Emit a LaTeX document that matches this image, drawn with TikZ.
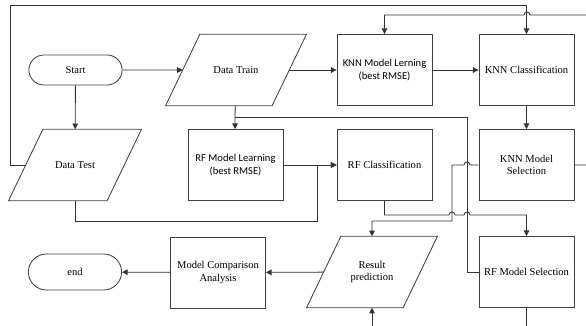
\documentclass[tikz,border=0pt]{standalone}
\usepackage{fontspec}
\setmainfont{Liberation Serif}
\newfontfamily\labelsans{Carlito}
\usetikzlibrary{shapes.misc,arrows.meta}

\tikzset{
  procbox/.style={draw=black!75, line width=0.6pt, minimum width=2.375cm,
    minimum height=1.775cm, inner sep=1pt, align=center,
    font=\fontsize{7.5}{9}\selectfont},
  iobox/.style={minimum height=1.775cm, inner sep=1pt, align=center,
    font=\fontsize{7.5}{9}\selectfont,
    append after command={\pgfextra{
      \draw[black!75, line width=0.6pt]
        ([xshift=0.43cm]\tikzlastnode.north west) --
        ([xshift=0.43cm]\tikzlastnode.north east) --
        ([xshift=-0.43cm]\tikzlastnode.south east) --
        ([xshift=-0.43cm]\tikzlastnode.south west) -- cycle;}}},
  termbox/.style={rounded rectangle, draw=black!75, line width=0.6pt,
    minimum width=2.4cm, inner sep=1pt, font=\fontsize{7.5}{9}\selectfont},
  flow/.style={draw=black!80, line width=0.6pt, -{Triangle[length=4pt,width=4pt]}},
  link/.style={draw=black!80, line width=0.6pt}
}

\begin{document}
\begin{tikzpicture}[x=0.025cm, y=-0.025cm]
  \useasboundingbox (0,0) rectangle (586,326);
  \clip (0,0) rectangle (586,326);

  % top row
  \node[termbox, minimum height=0.75cm] (start) at (75.5,70) {Start};
  \node[iobox, minimum width=2.65cm] (train) at (236,70) {Data Train};
  \node[procbox] (knnlearn) at (384.5,70) {\labelsans KNN Model Lerning\\\labelsans (best RMSE)};
  \node[procbox] (knnclass) at (526.5,70) {KNN Classification};

  % middle row
  \node[iobox, minimum width=2.45cm] (test) at (75,165) {Data Test};
  \node[procbox] (rflearn) at (235.5,165) {\labelsans RF Model Learning\\\labelsans (best RMSE)};
  \node[procbox] (rfclass) at (384.5,165) {RF Classification};
  \node[procbox] (knnsel) at (526.5,165) {KNN Model\\Selection};

  % bottom row
  \node[termbox, minimum height=0.9cm] (finish) at (75,272) {end};
  \node[procbox] (compare) at (218,272.5) {Model Comparison\\Analysis};
  \node[iobox, minimum width=2.4cm] (result) at (372,272) {Result\\prediction};
  \node[procbox] (rfsel) at (526.5,272) {RF Model Selection};

  \coordinate (split) at (235,117);

  % straight links
  \draw[flow] (start) -- (train);
  \draw[flow] (start) -- (test);
  \draw[flow] (train) -- (knnlearn);
  \draw[flow] (knnlearn) -- (knnclass);
  \draw[flow] (knnclass) -- (knnsel);
  \draw[flow] (split) -- (rflearn);
  \draw[link] (train) -- (split);
  \draw[flow] (rflearn) -- (rfclass);
  \draw[flow] (result) -- (compare);
  \draw[flow] (compare) -- (finish);

  % routed links
  \draw[link] (split) -| (467,272) -- (rfsel.west);
  \draw[flow] (test.west) -| (10,5) -| (knnclass.north);
  \draw[flow] (test.south) |- (317,221) |- (rfclass.west);
  \draw[flow] (rfclass.south) |- (449,215)
    arc[start angle=180, end angle=0, radius=0.075cm] -- (464,215)
    arc[start angle=180, end angle=0, radius=0.075cm] -| (rfsel.north);
  \draw[flow] (knnsel.west) -- (470,165)
    arc[start angle=0, end angle=180, radius=0.075cm] -- (452,165)
    |- (372,221) -- (result.north);
  \draw[flow] (knnsel.east) -- (600,165) -- (600,15) -- (530,15)
    arc[start angle=0, end angle=180, radius=0.075cm] -| (knnlearn.north);
  \draw[flow] (rfsel.south) -- (526.5,340) -| (result.south);
\end{tikzpicture}
\end{document}
